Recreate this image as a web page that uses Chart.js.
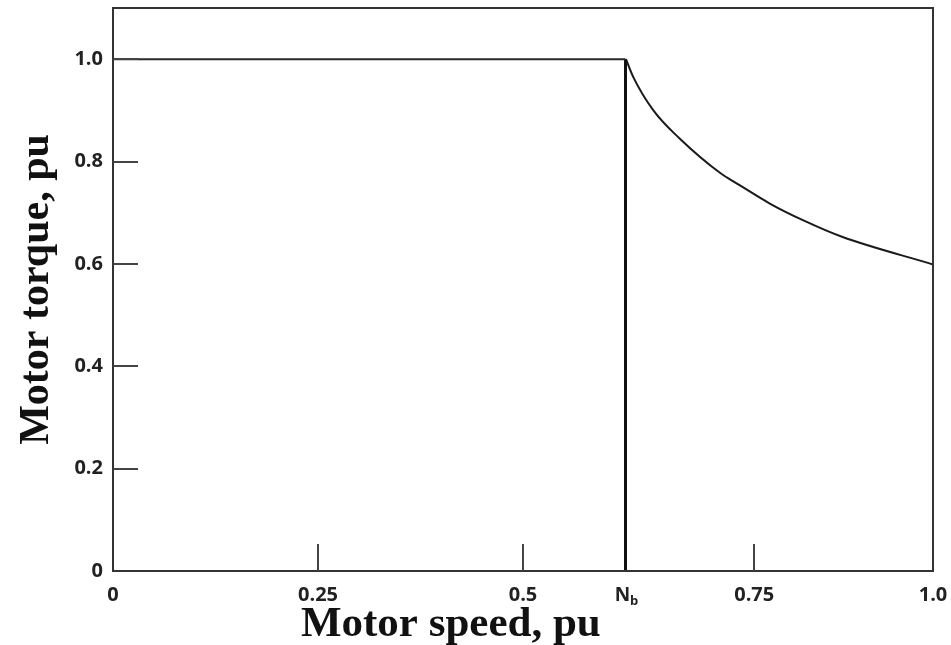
<!DOCTYPE html>
<html><head><meta charset="utf-8">
<script src="https://cdn.jsdelivr.net/npm/chart.js@4.4.1/dist/chart.umd.min.js"></script>
<style>html,body{margin:0;padding:0;background:#fff}#wrap{width:951px;height:645px;position:relative}</style>
</head><body><div id="wrap"><canvas id="c"></canvas></div>
<script>
// ---- data ----
const baseSpeed = 0.625;
const constSpeed = [0, 0.625];
const constTorque = [1.0, 1.0];
const dropSpeed = [0.625, 0.625];
const dropTorque = [1.0, 0];
const weakSpeed = [0.6256, 0.6345, 0.659, 0.691, 0.741, 0.761, 0.801, 0.842, 0.889, 1.0];
const weakTorque = [1.0, 0.965, 0.900, 0.845, 0.777, 0.757, 0.718, 0.685, 0.653, 0.599];
const xTickValues = [0, 0.25, 0.5, 0.625, 0.782, 1.0];
const xTickLabels = ['0', '0.25', '0.5', 'Nb', '0.75', '1.0'];
const yTickValues = [0, 0.2, 0.4, 0.6, 0.8, 1.0];
const yTickLabels = ['0', '0.2', '0.4', '0.6', '0.8', '1.0'];
const xTitle = 'Motor speed, pu';
const yTitle = 'Motor torque, pu';

const pts = (xs, ys) => xs.map((v, i) => ({x: v, y: ys[i]}));
const tickFont = {family: '"Open Sans", sans-serif', weight: 'bold', size: 20};

const framePlugin = {
  id: 'frame',
  afterDraw(chart) {
    const {ctx, chartArea: a, scales: {x, y}} = chart;
    ctx.save();
    ctx.strokeStyle = '#333';
    ctx.lineWidth = 2;
    ctx.strokeRect(a.left, a.top, a.right - a.left, a.bottom - a.top);
    ctx.strokeStyle = '#444';
    yTickValues.forEach(v => {
      if (v === 0) return;
      const py = Math.round(y.getPixelForValue(v));
      ctx.beginPath(); ctx.moveTo(a.left, py); ctx.lineTo(a.left + 25, py); ctx.stroke();
    });
    xTickValues.forEach((v, i) => {
      if (v === 0 || v === 1 || xTickLabels[i] === 'Nb') return;
      const px = Math.round(x.getPixelForValue(v));
      ctx.beginPath(); ctx.moveTo(px, a.bottom); ctx.lineTo(px, a.bottom - 27); ctx.stroke();
    });
    // N_b label with subscript
    const px = x.getPixelForValue(baseSpeed);
    ctx.fillStyle = '#222';
    ctx.textBaseline = 'alphabetic';
    ctx.textAlign = 'left';
    ctx.font = 'bold 19px "Open Sans", sans-serif';
    const wN = ctx.measureText('N').width;
    ctx.font = 'bold 13px "Open Sans", sans-serif';
    const wb = ctx.measureText('b').width;
    const sx = px - (wN + wb) / 2 + 1;
    ctx.font = 'bold 19px "Open Sans", sans-serif';
    ctx.fillText('N', sx, 601);
    ctx.font = 'bold 13px "Open Sans", sans-serif';
    ctx.fillText('b', sx + wN, 605);
    // x axis title
    ctx.font = 'bold 43px "Liberation Serif", serif';
    ctx.textAlign = 'center';
    ctx.fillStyle = '#111';
    ctx.fillText(xTitle, a.left + (a.right - a.left) * 0.412, 636);
    ctx.restore();
  }
};

new Chart(document.getElementById('c'), {
  type: 'line',
  data: {
    datasets: [
      {data: pts(constSpeed, constTorque), borderColor: '#2a2a2a', borderWidth: 2, pointRadius: 0},
      {data: pts(dropSpeed, dropTorque), borderColor: '#111', borderWidth: 3, pointRadius: 0},
      {data: pts(weakSpeed, weakTorque), borderColor: '#1a1a1a', borderWidth: 2, pointRadius: 0, cubicInterpolationMode: 'monotone'}
    ]
  },
  options: {
    responsive: true,
    maintainAspectRatio: false,
    animation: false,
    events: [],
    layout: {padding: {left: 0, right: 18, top: 8, bottom: 0}},
    plugins: {legend: {display: false}, tooltip: {enabled: false}},
    scales: {
      x: {
        type: 'linear', min: 0, max: 1,
        grid: {display: false},
        border: {display: false},
        afterFit(s) { s.height = 74; s.paddingLeft = 0; s.paddingRight = 0; },
        afterBuildTicks(s) { s.ticks = xTickValues.map(v => ({value: v})); },
        ticks: {
          autoSkip: false, maxRotation: 0, padding: 4, color: '#222', font: tickFont,
          callback(v, i) { const l = xTickLabels[i]; return l === 'Nb' ? '' : l; }
        }
      },
      y: {
        type: 'linear', min: 0, max: 1.1,
        grid: {display: false},
        border: {display: false},
        afterFit(s) { s.width = 113; s.paddingTop = 0; s.paddingBottom = 0; },
        afterBuildTicks(s) { s.ticks = yTickValues.map(v => ({value: v})); },
        ticks: {
          autoSkip: false, padding: 2, color: '#222', font: tickFont,
          callback(v, i) { return yTickLabels[i]; }
        },
        title: {
          display: true, text: yTitle, color: '#111',
          font: {family: '"Liberation Serif", serif', weight: 'bold', size: 42},
          padding: {top: 12, bottom: 0}
        }
      }
    }
  },
  plugins: [framePlugin]
});
</script>
</body></html>
